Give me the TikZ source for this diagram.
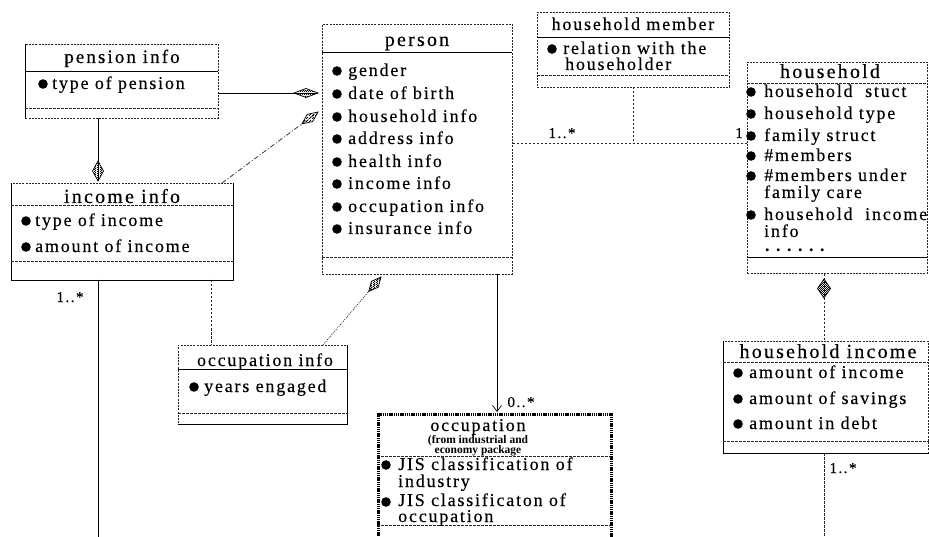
\documentclass[tikz,border=0pt]{standalone}
\usepackage{fontspec}
\setmainfont{Liberation Serif}
\newfontfamily\lsfont[LetterSpace=10,FakeBold=0.3]{Liberation Serif}
\newfontfamily\lsbigfont[LetterSpace=11,FakeBold=0.3]{Liberation Serif}
\newfontfamily\dotfont[LetterSpace=36]{Liberation Serif}
\usetikzlibrary{calc,arrows.meta,patterns.meta}
\tikzdeclarepattern{
  name=finecheck,
  type=uncolored,
  bottom left={(0pt,0pt)},
  top right={(2.4pt,2.4pt)},
  tile size={(2.4pt,2.4pt)},
  code={\fill (0pt,0pt) rectangle (1.2pt,1.2pt); \fill (1.2pt,1.2pt) rectangle (2.4pt,2.4pt);}
}
\newcommand\itmf{\lsfont\fontsize{18}{20}\selectfont}
\newcommand\bigttlf{\lsbigfont\fontsize{20}{22}\selectfont}
\newcommand\midttlf{\lsfont\fontsize{18}{20}\selectfont}
\newcommand\lblf{\lsfont\fontsize{15}{17}\selectfont}
\newcommand\aggdiamond[4]{%
  \path[agg] (#1) -- ($(#1)!#3/2!(#2)!#4!90:(#2)$) -- ($(#1)!#3!(#2)$)
    -- ($(#1)!#3/2!(#2)!#4!-90:(#2)$) -- cycle;}
\begin{document}
\begin{tikzpicture}[x=1pt,y=-1pt,
  umlbox/.style={draw=black!85, line width=0.6pt, dash pattern=on 2pt off 1.2pt,
    inner sep=0pt, anchor=north west},
  thickbox/.style={draw=black, line width=3pt, dash pattern=on 1.4pt off 0.8pt,
    inner sep=0pt, anchor=north west},
  solidln/.style={draw=black, line width=0.7pt},
  dashln/.style={draw=black!85, line width=0.6pt, dash pattern=on 2.5pt off 1.5pt},
  dashdotln/.style={draw=black!85, line width=0.7pt, dash pattern=on 5pt off 2pt on 1pt off 2pt},
  dotln/.style={draw=black!85, line width=0.7pt, dash pattern=on 1pt off 1.2pt},
  agg/.style={draw=black, line width=0.7pt, pattern=finecheck, pattern color=black},
  bigttl/.style={font=\bigttlf, inner sep=0pt, anchor=base},
  midttl/.style={font=\midttlf, inner sep=0pt, anchor=base},
  itm/.style={font=\itmf, inner sep=0pt, anchor=base west},
  lbl/.style={font=\lblf, inner sep=0pt, anchor=base},
  sub/.style={font=\bfseries\fontsize{11.5}{12}\selectfont, inner sep=0pt, anchor=base},
  bul/.style={fill=black}
]
\useasboundingbox (0,0) rectangle (929,537);
\fill[white] (0,0) rectangle (929,537);

% ---------------- boxes
\node[umlbox, minimum width=193pt, minimum height=74pt] (pension) at (25,44) {};
\node[umlbox, minimum width=222pt, minimum height=97pt] (income) at (11,183) {};
\node[umlbox, minimum width=190pt, minimum height=250pt] (person) at (322,24) {};
\node[umlbox, minimum width=192pt, minimum height=75pt] (hhmember) at (537,12) {};
\node[umlbox, minimum width=180pt, minimum height=211pt] (household) at (747,62) {};
\node[umlbox, minimum width=169pt, minimum height=79pt] (occinfo) at (178,345) {};
\node[thickbox, minimum width=233pt, minimum height=140pt] (occupation) at (377,413) {};
\node[umlbox, minimum width=205pt, minimum height=112pt] (hhincome) at (723,341) {};

% solid edge segments
\draw[solidln] (pension.north west) -- (pension.south west);
\draw[solidln] (income.north west) -- (income.south west) -- (income.south east) -- (income.north east);
\draw[solidln] (occinfo.north east) -- (occinfo.south east) -- (occinfo.south west);
\draw[solidln] (hhincome.north west) -- (hhincome.south west) -- (hhincome.south east);

% dividers
\draw[solidln, line width=0.6pt] (25,71) -- (218,71);
\draw[dashln] (25,108) -- (218,108);
\draw[dashln] (11,205) -- (233,205);
\draw[dashln] (11,261) -- (233,261);
\draw[solidln, line width=0.6pt] (322,52) -- (512,52);
\draw[dashln] (322,257) -- (512,257);
\draw[solidln, line width=0.6pt] (537,37) -- (729,37);
\draw[dashln] (537,75) -- (729,75);
\draw[dashln] (747,83) -- (927,83);
\draw[solidln, line width=0.6pt] (747,257) -- (927,257);
\draw[solidln, line width=0.6pt] (178,369) -- (347,369);
\draw[dashln] (178,413) -- (347,413);
\draw[dashln] (377,456) -- (610,456);
\draw[dashln] (377,525) -- (610,525);
\draw[dashln] (723,362) -- (929,362);
\draw[dashln] (723,441) -- (929,441);

% ---------------- texts
% pension info
\node[bigttl, font=\lsbigfont\fontsize{19}{21}\selectfont] (tpension) at (122,63) {pension info};
\fill[bul] (43,84) circle (4.8pt);
\node[itm] (pension1) at (52,89) {type of pension};
% income info
\node[bigttl] (tincome) at (122,203) {income info};
\fill[bul] (26,221) circle (4.8pt);
\node[itm] (income1) at (35,226) {type of income};
\fill[bul] (26,247) circle (4.8pt);
\node[itm] (income2) at (35,252) {amount of income};
% person
\node[bigttl] (tperson) at (417,46) {person};
\foreach \t/\yy [count=\i] in {gender/71, date of birth/94, household info/117,
  address info/139, health info/162, income info/184, occupation info/207,
  insurance info/229}{
  \fill[bul] (337,\yy) circle (4.8pt);
  \node[itm] (person\i) at (348,\yy+5) {\t};
}
% household member
\node[midttl] (thhmember) at (633,30) {household member};
\fill[bul] (552,49) circle (4.8pt);
\node[itm] (hhm1) at (563,54) {relation with the};
\node[itm] (hhm2) at (565,70) {householder};
% household
\node[bigttl] (thousehold) at (830,78) {household};
\fill[bul] (751,92) circle (4.8pt);
\node[itm] (hh1) at (764,97) {household\ \ stuct};
\fill[bul] (751,114) circle (4.8pt);
\node[itm] (hh2) at (764,119) {household type};
\fill[bul] (751,136) circle (4.8pt);
\node[itm] (hh3) at (764,141) {family struct};
\fill[bul] (751,156) circle (4.8pt);
\node[itm] (hh4) at (764,161) {\#members};
\fill[bul] (751,176) circle (4.8pt);
\node[itm] (hh5) at (764,181) {\#members under};
\node[itm] (hh6) at (764,198) {family care};
\fill[bul] (751,215) circle (4.8pt);
\node[itm] (hh7) at (764,220) {household\ \ income};
\node[itm] (hh8) at (764,237) {info};
\node[font=\dotfont\bfseries\fontsize{18}{20}\selectfont, inner sep=0pt, anchor=base west] (hh9) at (765,252) {......};
% occupation info
\node[midttl] (toccinfo) at (265,366) {occupation info};
\fill[bul] (194,387) circle (4.8pt);
\node[itm] (occi1) at (204,392) {years engaged};
% occupation
\node[midttl] (toccupation) at (478,431) {occupation};
\node[sub] (tocc2) at (478,443) {(from industrial and};
\node[sub] (tocc3) at (478,453) {economy package};
\fill[bul] (386,465) circle (4.8pt);
\node[itm] (occ1) at (398,470) {JIS classification of};
\node[itm] (occ2) at (398,487) {industry};
\fill[bul] (386,502) circle (4.8pt);
\node[itm] (occ3) at (398,506) {JIS classificaton of};
\node[itm] (occ4) at (398,522) {occupation};
% household income
\node[bigttl] (thhincome) at (828,358) {household income};
\fill[bul] (738,373) circle (4.8pt);
\node[itm] (hhi1) at (749,378) {amount of income};
\fill[bul] (738,399) circle (4.8pt);
\node[itm] (hhi2) at (749,404) {amount of savings};
\fill[bul] (738,424) circle (4.8pt);
\node[itm] (hhi3) at (749,429) {amount in debt};

% ---------------- connectors
% pension info -> person
\coordinate (pp1) at (pension.east |- 0,93);
\coordinate (pp2) at (318,93);
\draw[solidln] (pp1) -- (pp2);
\aggdiamond{pp2}{pp1}{24pt}{4.5pt}
% income info -> person (dash-dot)
\coordinate (ip1) at (222,183);
\coordinate (ip2) at (318,112);
\draw[dashdotln] (ip1) -- (ip2);
\aggdiamond{ip2}{ip1}{20pt}{4.5pt}
% pension info -> income info
\coordinate (pi1) at (98,118);
\coordinate (pi2) at (98,181);
\draw[solidln] (pi1) -- (pi2);
\aggdiamond{pi2}{pi1}{20pt}{5.5pt}
% income info down
\coordinate (id1) at (98,280);
\coordinate (id2) at (98,540);
\draw[solidln] (id1) -- (id2);
\node[lbl] (lab1) at (70,302) {1..*};
% income info -> occupation info
\coordinate (io1) at (211,280);
\coordinate (io2) at (211,345);
\draw[dashln] (io1) -- (io2);
% occupation info -> person (dotted)
\coordinate (op1) at (323,345);
\coordinate (op2) at (381,277);
\draw[dotln] (op1) -- (op2);
\aggdiamond{op2}{op1}{19pt}{4.5pt}
% person -> occupation
\coordinate (po1) at (497,274);
\coordinate (po2) at (497,412);
\draw[solidln, -{Straight Barb[length=6pt,width=9pt]}] (po1) -- (po2);
\node[lbl] (lab2) at (521,407) {0..*};
% person -> household
\coordinate (ph1) at (person.east |- 0,143);
\coordinate (ph2) at (household.west |- 0,143);
\draw[dashln] (ph1) -- (ph2);
\node[lbl] (lab3) at (562,138) {1..*};
\node[lbl] (lab4) at (739,138) {1};
% household member -> association
\coordinate (hm1) at (633,87);
\coordinate (hm2) at (633,143);
\draw[dashln] (hm1) -- (hm2);
% household -> household income
\coordinate (hi1) at (824,279);
\coordinate (hi2) at (824,341);
\draw[dashln] (household.south -| hi1) -- (hi2);
\aggdiamond{hi1}{hi2}{19pt}{6.5pt}
% household income down
\coordinate (hd1) at (824,453);
\coordinate (hd2) at (824,540);
\draw[dashln] (hd1) -- (hd2);
\node[lbl] (lab5) at (843,473) {1..*};
\end{tikzpicture}
\end{document}
